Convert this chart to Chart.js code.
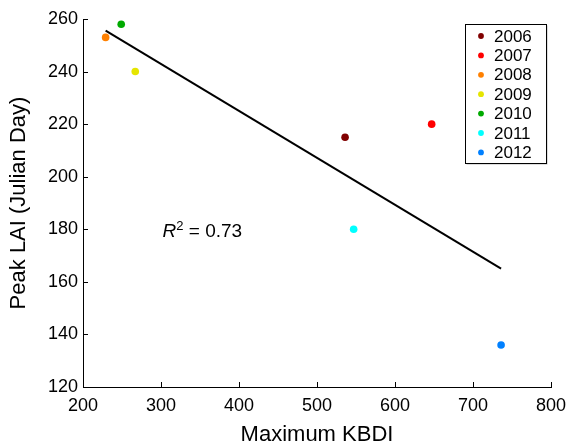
<!DOCTYPE html>
<html>
<head>
<meta charset="utf-8">
<script src="https://cdn.jsdelivr.net/npm/chart.js@4.4.0/dist/chart.umd.min.js"></script>
<style>
  html, body { margin: 0; padding: 0; background: #fff; }
  #wrap { width: 569px; height: 446px; position: relative; }
</style>
</head>
<body>
<div id="wrap"><canvas id="lai-chart"></canvas></div>
<script>
// Peak LAI timing against maximum KBDI, one point per year
const years = ['2006', '2007', '2008', '2009', '2010', '2011', '2012'];
const maxKbdi = [536, 647, 229, 267, 249, 547, 736];
const peakLaiDay = [215, 220, 253, 240, 258, 180, 136];
const yearColors = ['#800000', '#ff0000', '#ff8000', '#e5e500', '#00aa00', '#00ffff', '#0080ff'];

// Fitted regression line (end points)
const fitKbdi = [229, 736];
const fitDay = [255.6, 165];
const rSquared = '0.73';

const xTicks = [200, 300, 400, 500, 600, 700, 800];
const yTicks = [120, 140, 160, 180, 200, 220, 240, 260];

const FONT = '"Liberation Sans", Arial, Helvetica, sans-serif';

const datasets = years.map((yr, i) => ({
    label: yr,
    data: [{ x: maxKbdi[i], y: peakLaiDay[i] }],
    backgroundColor: yearColors[i],
    borderWidth: 0,
    pointRadius: 3.8,
    pointHoverRadius: 3.8
}));

datasets.push({
    label: 'fit',
    data: fitKbdi.map((x, i) => ({ x: x, y: fitDay[i] })),
    showLine: true,
    borderColor: '#000',
    borderWidth: 2,
    pointRadius: 0,
    fill: false
});

// MATLAB-style ticks pointing into the plot area
const inwardTicks = {
    id: 'inwardTicks',
    afterDraw(chart) {
        const { ctx, chartArea, scales } = chart;
        ctx.save();
        ctx.strokeStyle = '#000';
        ctx.lineWidth = 1;
        ctx.beginPath();
        xTicks.forEach(v => {
            const px = Math.round(scales.x.getPixelForValue(v)) + 0.5;
            ctx.moveTo(px, chartArea.bottom);
            ctx.lineTo(px, chartArea.bottom - 5);
        });
        yTicks.forEach(v => {
            const py = Math.round(scales.y.getPixelForValue(v)) + 0.5;
            ctx.moveTo(chartArea.left, py);
            ctx.lineTo(chartArea.left + 5, py);
        });
        ctx.stroke();
        ctx.restore();
    }
};

// Boxed legend in the upper right corner
const boxedLegend = {
    id: 'boxedLegend',
    afterDraw(chart, args, opts) {
        const ctx = chart.ctx;
        const { left, top, width, height, rowGap, firstRow } = opts;
        ctx.save();
        ctx.fillStyle = '#bbb';
        ctx.fillRect(left + 1.5, top + 1.5, width, height);
        ctx.fillStyle = '#fff';
        ctx.fillRect(left, top, width, height);
        ctx.strokeStyle = '#000';
        ctx.lineWidth = 1;
        ctx.strokeRect(left + 0.5, top + 0.5, width, height);
        ctx.font = '17px ' + FONT;
        ctx.textBaseline = 'middle';
        ctx.textAlign = 'left';
        years.forEach((yr, i) => {
            const cy = top + firstRow + i * rowGap;
            ctx.fillStyle = yearColors[i];
            ctx.beginPath();
            ctx.arc(left + 16, cy, 2.9, 0, Math.PI * 2);
            ctx.fill();
            ctx.fillStyle = '#000';
            ctx.fillText(yr, left + 29, cy + 1);
        });
        ctx.restore();
    }
};

// R-squared annotation with italic R and superscript 2
const rSquaredLabel = {
    id: 'rSquaredLabel',
    afterDraw(chart, args, opts) {
        const { ctx, scales } = chart;
        const x = scales.x.getPixelForValue(opts.x);
        const y = scales.y.getPixelForValue(opts.y);
        ctx.save();
        ctx.fillStyle = '#000';
        ctx.textBaseline = 'alphabetic';
        ctx.textAlign = 'left';
        ctx.font = 'italic 19px ' + FONT;
        ctx.fillText('R', x, y);
        let cx = x + ctx.measureText('R').width;
        ctx.font = '13px ' + FONT;
        ctx.fillText('2', cx, y - 7);
        cx += ctx.measureText('2').width;
        ctx.font = '19px ' + FONT;
        ctx.fillText(' = ' + rSquared, cx, y);
        ctx.restore();
    }
};

new Chart(document.getElementById('lai-chart'), {
    type: 'scatter',
    data: { datasets: datasets },
    plugins: [inwardTicks, boxedLegend, rSquaredLabel],
    options: {
        responsive: true,
        maintainAspectRatio: false,
        animation: false,
        layout: { padding: { top: 19, right: 18, left: 0, bottom: 0 } },
        plugins: {
            legend: { display: false },
            tooltip: { enabled: false },
            boxedLegend: { left: 465, top: 24, width: 81, height: 139, firstRow: 12, rowGap: 19.4 },
            rSquaredLabel: { x: 302, y: 177.2 }
        },
        scales: {
            x: {
                type: 'linear',
                min: 200,
                max: 800,
                afterBuildTicks: s => { s.ticks = xTicks.map(v => ({ value: v })); },
                afterFit: s => {
                    s.height = 59;
                    s.paddingLeft = 0;
                    s.paddingRight = 0;
                },
                grid: { display: false, drawTicks: false },
                border: { display: true, color: '#000', width: 1 },
                ticks: { color: '#000', font: { family: FONT, size: 18 }, padding: 8, maxRotation: 0 },
                title: {
                    display: true,
                    text: 'Maximum KBDI',
                    color: '#000',
                    font: { family: FONT, size: 22, lineHeight: 1 },
                    padding: { top: 0, bottom: 0 }
                }
            },
            y: {
                type: 'linear',
                min: 120,
                max: 260,
                afterBuildTicks: s => { s.ticks = yTicks.map(v => ({ value: v })); },
                afterFit: s => {
                    s.width = 83;
                    s.paddingTop = 0;
                    s.paddingBottom = 0;
                },
                grid: { display: false, drawTicks: false },
                border: { display: true, color: '#000', width: 1 },
                ticks: { color: '#000', font: { family: FONT, size: 18 }, padding: 5 },
                title: {
                    display: true,
                    text: 'Peak LAI (Julian Day)',
                    color: '#000',
                    font: { family: FONT, size: 22, lineHeight: 1 },
                    padding: { top: 8, bottom: 0 }
                }
            }
        }
    }
});
</script>
</body>
</html>
